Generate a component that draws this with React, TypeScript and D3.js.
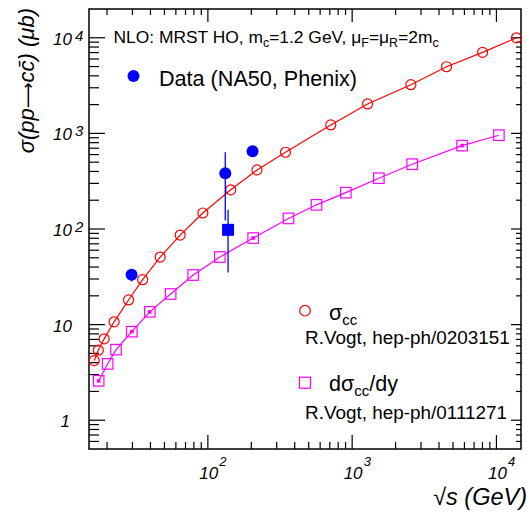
import React from "react";
import * as d3 from "d3";

const WIDTH = 527;
const HEIGHT = 513;
const FRAME = { left: 89, right: 521, top: 9, bottom: 449 };

// log-log axis ranges
const X_DOMAIN: [number, number] = [15, 14800];
const Y_DOMAIN: [number, number] = [0.5, 20000];

// NLO total charm cross section sigma_cc (R. Vogt, hep-ph/0203151)
const sigmaSqrtS = [16.3, 17.4, 19.1, 22.4, 28.2, 35.3, 46.7, 64.3, 92.3, 144, 219, 345, 711, 1278, 2552, 4510, 8014, 13770];
const sigmaValues = [4.2, 5.4, 7.1, 10.7, 18.1, 29.5, 50.9, 86.4, 147, 257, 415, 635, 1225, 2031, 3230, 4980, 7036, 10000];

// NLO rapidity density dsigma_cc/dy (R. Vogt, hep-ph/0111271)
const dsdySqrtS = [17.5, 20.2, 23.1, 29.7, 39.6, 55.2, 79.1, 121, 206, 362, 566, 904, 1531, 2606, 5780, 10400];
const dsdyValues = [2.58, 3.88, 5.47, 8.44, 13.6, 20.9, 33.0, 50.9, 80.4, 129, 179, 240, 340, 476, 745, 957];
const dsdyDotted = [0, 3, 4, 8, 14];

// measured total cross sections (NA50, Phenix)
const dataSqrtS = [29.6, 132, 204];
const dataSigma = [33.2, 383, 651];
const dataLow = [28.3, 123, 651];
const dataHigh = [38.2, 636, 651];

// measured dsigma/dy (Phenix)
const dataDySqrtS = [138];
const dataDy = [98];
const dataDyLow = [35.1];
const dataDyHigh = [158.6];

const FONT = "'Liberation Sans', Arial, Helvetica, sans-serif";
const RED = "#ff0000";
const MAGENTA = "#ff00ff";
const BLUE = "#0000ff";

function logTicks([lo, hi]: [number, number]) {
  const major: number[] = [];
  const minor: number[] = [];
  for (let k = Math.floor(Math.log10(lo)); k <= Math.ceil(Math.log10(hi)); k++) {
    const p = Math.pow(10, k);
    if (p >= lo * 0.999 && p <= hi * 1.001) major.push(p);
    for (let d = 2; d <= 9; d++) {
      const v = d * p;
      if (v > lo * 1.001 && v < hi * 0.999) minor.push(v);
    }
  }
  return { major, minor };
}

export default function App() {
  const x = d3.scaleLog().domain(X_DOMAIN).range([FRAME.left, FRAME.right]);
  const y = d3.scaleLog().domain(Y_DOMAIN).range([FRAME.bottom, FRAME.top]);
  const xt = logTicks(X_DOMAIN);
  const yt = logTicks(Y_DOMAIN);

  const line = d3
    .line<[number, number]>()
    .x((d) => x(d[0]))
    .y((d) => y(d[1]));

  const sigmaPts: [number, number][] = sigmaSqrtS.map((s, i) => [s, sigmaValues[i]]);
  const dsdyPts: [number, number][] = dsdySqrtS.map((s, i) => [s, dsdyValues[i]]);

  const sq = 10.5;
  const ax = { stroke: "#000", strokeWidth: 1.2 };

  return (
    <div style={{ position: "absolute", left: 0, top: 0 }}>
      <svg width={WIDTH} height={HEIGHT} style={{ display: "block", background: "#fff" }} fontFamily={FONT}>
        <rect x={0} y={0} width={WIDTH} height={HEIGHT} fill="#fff" />

        {/* x ticks, bottom and top */}
        {xt.major.map((v) => (
          <g key={"xM" + v}>
            <line x1={x(v)} x2={x(v)} y1={FRAME.bottom} y2={FRAME.bottom - 14} {...ax} />
            <line x1={x(v)} x2={x(v)} y1={FRAME.top} y2={FRAME.top + 13} {...ax} />
          </g>
        ))}
        {xt.minor.map((v) => (
          <g key={"xm" + v}>
            <line x1={x(v)} x2={x(v)} y1={FRAME.bottom} y2={FRAME.bottom - 7} {...ax} />
            <line x1={x(v)} x2={x(v)} y1={FRAME.top} y2={FRAME.top + 6} {...ax} />
          </g>
        ))}
        {/* y ticks, left and right */}
        {yt.major.map((v) => (
          <g key={"yM" + v}>
            <line x1={FRAME.left} x2={FRAME.left + 16} y1={y(v)} y2={y(v)} {...ax} />
            <line x1={FRAME.right} x2={FRAME.right - 10} y1={y(v)} y2={y(v)} {...ax} />
          </g>
        ))}
        {yt.minor.map((v) => (
          <g key={"ym" + v}>
            <line x1={FRAME.left} x2={FRAME.left + 10} y1={y(v)} y2={y(v)} {...ax} />
            <line x1={FRAME.right} x2={FRAME.right - 5} y1={y(v)} y2={y(v)} {...ax} />
          </g>
        ))}

        <rect
          x={FRAME.left}
          y={FRAME.top}
          width={FRAME.right - FRAME.left}
          height={FRAME.bottom - FRAME.top}
          fill="none"
          stroke="#000"
          strokeWidth={1.5}
        />

        {/* x tick labels */}
        {xt.major.map((v) => {
          const e = Math.round(Math.log10(v));
          return (
            <g key={"xl" + v} fontStyle="italic">
              <text x={x(v) - 8.5} y={478.5} fontSize={17}>10</text>
              <text x={x(v) + 11.5} y={466} fontSize={13}>{e}</text>
            </g>
          );
        })}
        {/* y tick labels */}
        {yt.major.map((v) => {
          const e = Math.round(Math.log10(v));
          if (e <= 1)
            return (
              <text key={"yl" + v} x={e === 0 ? 70 : 72} y={y(v) + 7} fontSize={17} fontStyle="italic" textAnchor="end">
                {String(v)}
              </text>
            );
          return (
            <g key={"yl" + v} fontStyle="italic">
              <text x={72} y={y(v) + 7} fontSize={17} textAnchor="end">10</text>
              <text x={75} y={y(v) + 3} fontSize={15}>{e}</text>
            </g>
          );
        })}

        {/* theory curves */}
        <path d={line(sigmaPts) ?? ""} fill="none" stroke={RED} strokeWidth={1.2} />
        <path d={line(dsdyPts) ?? ""} fill="none" stroke={MAGENTA} strokeWidth={1.2} />
        {sigmaPts.map((p, i) => (
          <circle key={"sc" + i} cx={x(p[0])} cy={y(p[1])} r={5} fill="none" stroke={RED} strokeWidth={1.2} />
        ))}
        {dsdyPts.map((p, i) => (
          <rect
            key={"ds" + i}
            x={x(p[0]) - sq / 2}
            y={y(p[1]) - sq / 2}
            width={sq}
            height={sq}
            fill="none"
            stroke={MAGENTA}
            strokeWidth={1.2}
          />
        ))}
        {dsdyDotted.map((i) => (
          <rect key={"dd" + i} x={x(dsdyPts[i][0]) - 1.8} y={y(dsdyPts[i][1]) - 1.8} width={3.6} height={3.6} fill={MAGENTA} />
        ))}

        {/* measurements */}
        {dataSqrtS.map((s, i) => (
          <line key={"de" + i} x1={x(s)} x2={x(s)} y1={y(dataLow[i])} y2={y(dataHigh[i])} stroke={BLUE} strokeWidth={1.3} />
        ))}
        {dataDySqrtS.map((s, i) => (
          <line key={"dye" + i} x1={x(s)} x2={x(s)} y1={y(dataDyLow[i])} y2={y(dataDyHigh[i])} stroke={BLUE} strokeWidth={1.3} />
        ))}
        {dataSqrtS.map((s, i) => (
          <circle key={"dp" + i} cx={x(s)} cy={y(dataSigma[i])} r={6} fill={BLUE} />
        ))}
        {dataDySqrtS.map((s, i) => (
          <rect key={"dyp" + i} x={x(s) - 6} y={y(dataDy[i]) - 6} width={12} height={12} fill={BLUE} />
        ))}

        {/* header */}
        <text x={113.5} y={43} fontSize={17.4}>
          NLO: MRST HO, m
          <tspan dy={4} fontSize={12.5}>c</tspan>
          <tspan dy={-4}>=1.2 GeV, μ</tspan>
          <tspan dy={4} fontSize={12.5}>F</tspan>
          <tspan dy={-4}>=μ</tspan>
          <tspan dy={4} fontSize={12.5}>R</tspan>
          <tspan dy={-4}>=2m</tspan>
          <tspan dy={4} fontSize={12.5}>c</tspan>
        </text>

        {/* legends */}
        <circle cx={133.5} cy={76} r={6} fill={BLUE} />
        <text x={159} y={86} fontSize={21.6}>Data (NA50, Phenix)</text>

        <circle cx={305} cy={310.7} r={5.3} fill="none" stroke={RED} strokeWidth={1.2} />
        <text x={329} y={320} fontSize={21.5}>
          σ<tspan dy={5} fontSize={15}>cc</tspan>
        </text>
        <text x={305} y={344} fontSize={18.9}>R.Vogt, hep-ph/0203151</text>

        <rect x={305 - 5.5} y={382.7 - 5.5} width={11} height={11} fill="none" stroke={MAGENTA} strokeWidth={1.2} />
        <text x={329} y={391} fontSize={21.5}>
          dσ<tspan dy={5} fontSize={15}>cc</tspan>
          <tspan dy={-5}>/dy</tspan>
        </text>
        <text x={305} y={418.5} fontSize={18.9}>R.Vogt, hep-ph/0111271</text>

        {/* axis titles */}
        <text x={527} y={505} fontSize={23.5} fontStyle="italic" textAnchor="end">
          √s (GeV)
        </text>
        <text transform="translate(34, 8) rotate(-90)" fontSize={22} fontStyle="italic" textAnchor="end">
          σ(pp<tspan fontFamily="'DejaVu Sans', sans-serif" fontStyle="normal" fontSize={18}>⟶</tspan>cc̄) (μb)
        </text>
      </svg>
    </div>
  );
}
